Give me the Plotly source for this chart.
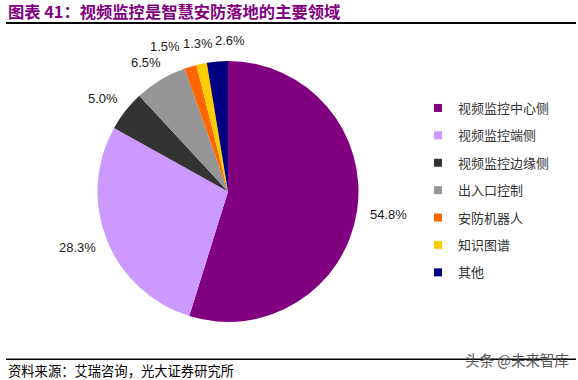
import math
import plotly.graph_objects as go

labels = ["视频监控中心侧", "视频监控端侧", "视频监控边缘侧", "出入口控制", "安防机器人", "知识图谱", "其他"]
values = [54.8, 28.3, 5.0, 6.5, 1.5, 1.3, 2.6]
colors = ["#800080", "#CC99FF", "#333333", "#969696", "#FF6600", "#FFCC00", "#000080"]

W, H = 578, 380


def PX(x):
    return x / W


def PY(y):
    return 1 - y / H


# pie box in pixels
CX, CY, R = 228, 191.5, 130.5

fig = go.Figure()

fig.add_trace(go.Pie(
    labels=labels, values=values, sort=False, direction="clockwise", rotation=0,
    marker=dict(colors=colors, line=dict(width=0)),
    textinfo="none", showlegend=False, hoverinfo="none",
    domain=dict(x=[PX(CX - R), PX(CX + R)], y=[PY(CY + R), PY(CY - R)]),
))

# legend via proxy traces
for lab, col in zip(labels, colors):
    fig.add_trace(go.Scatter(x=[None], y=[None], mode="markers", name=lab, legendgroup=lab,
                             marker=dict(symbol="square", size=8, color=col), hoverinfo="skip"))

# value labels around the pie, derived from the values
FS = 13


def text_w(s):
    cw = {".": 0.278, "%": 0.889}
    return sum(cw.get(c, 0.556) for c in s) * FS


total = sum(values)
lab_pos = []
cum = 0.0
RL = 144
for v in values:
    mid = (cum + v / 2) / total * 2 * math.pi
    cum += v
    dx, dy = math.sin(mid), -math.cos(mid)
    t = f"{v:.1f}%"
    w, h = text_w(t), FS * 1.1
    x = CX + dx * RL + dx * w / 2
    y = CY + dy * RL + dy * h / 2
    lab_pos.append([x, y, w, h, t])

# simple overlap relaxation
for _ in range(200):
    moved = False
    for i in range(len(lab_pos)):
        for j in range(i + 1, len(lab_pos)):
            a, b = lab_pos[i], lab_pos[j]
            if abs(a[1] - b[1]) < (a[3] + b[3]) / 2:
                need = (a[2] + b[2]) / 2 + 3
                d = b[0] - a[0]
                if abs(d) < need:
                    s = 1 if d >= 0 else -1
                    sh = (need - abs(d)) / 2 + 0.01
                    a[0] -= s * sh
                    b[0] += s * sh
                    moved = True
    if not moved:
        break

annotations = []

# horizontal rules drawn as filled annotation boxes
for yy, th in ((23, 2), (359, 1)):
    annotations.append(dict(text=" ", x=PX(6), y=PY(yy), xref="paper", yref="paper",
                            xanchor="left", yanchor="middle", showarrow=False,
                            width=570, height=th, borderpad=0, borderwidth=0,
                            bgcolor="#000000", font=dict(size=1, color="#000000")))

for x, y, w, h, t in lab_pos:
    annotations.append(dict(text=t, x=PX(x), y=PY(y), xref="paper", yref="paper",
                            xanchor="center", yanchor="middle", showarrow=False,
                            font=dict(family="Arial, Liberation Sans", size=FS, color="#1a1a1a")))

annotations += [
    dict(text="<b>图表 41：视频监控是智慧安防落地的主要领域</b>", x=PX(6), y=PY(11), xref="paper", yref="paper",
         xanchor="left", yanchor="middle", showarrow=False,
         font=dict(family="Noto Sans CJK SC", size=16.3, color="#800080")),
    dict(text="资料来源：艾瑞咨询，光大证券研究所", x=PX(6), y=PY(370), xref="paper", yref="paper",
         xanchor="left", yanchor="middle", showarrow=False,
         font=dict(family="Noto Sans CJK SC", size=13.3, color="#000000")),
    dict(text="头条 @未来智库", x=PX(571), y=PY(359), xref="paper", yref="paper",
         xanchor="right", yanchor="middle", showarrow=False,
         font=dict(family="Noto Sans CJK SC", size=14.5, color="#555555")),
]

# same rules also as shapes
rules = []
for yy, th in ((23, 2.0), (359, 1.0)):
    rules.append(dict(type="line", xref="paper", yref="paper", x0=PX(6), x1=PX(576),
                      y0=PY(yy), y1=PY(yy), line=dict(color="#000000", width=th), layer="above"))

fig.update_layout(
    width=W, height=H, margin=dict(l=0, r=0, t=0, b=0),
    paper_bgcolor="white", plot_bgcolor="rgba(0,0,0,0)",
    xaxis=dict(visible=False, domain=[0, 1], range=[0, W], fixedrange=True),
    yaxis=dict(visible=False, domain=[0, 1], range=[H, 0], fixedrange=True),
    legend=dict(x=PX(418), y=PY(93), xanchor="left", yanchor="top",
                font=dict(family="Noto Sans CJK SC", size=13, color="#333333"),
                itemwidth=30, tracegroupgap=7.5, bgcolor="rgba(0,0,0,0)", traceorder="grouped"),
    shapes=rules,
    annotations=annotations,
)
fig.write_html("out.html", config={"displayModeBar": False},
               post_script="document.body.style.margin='0';")
